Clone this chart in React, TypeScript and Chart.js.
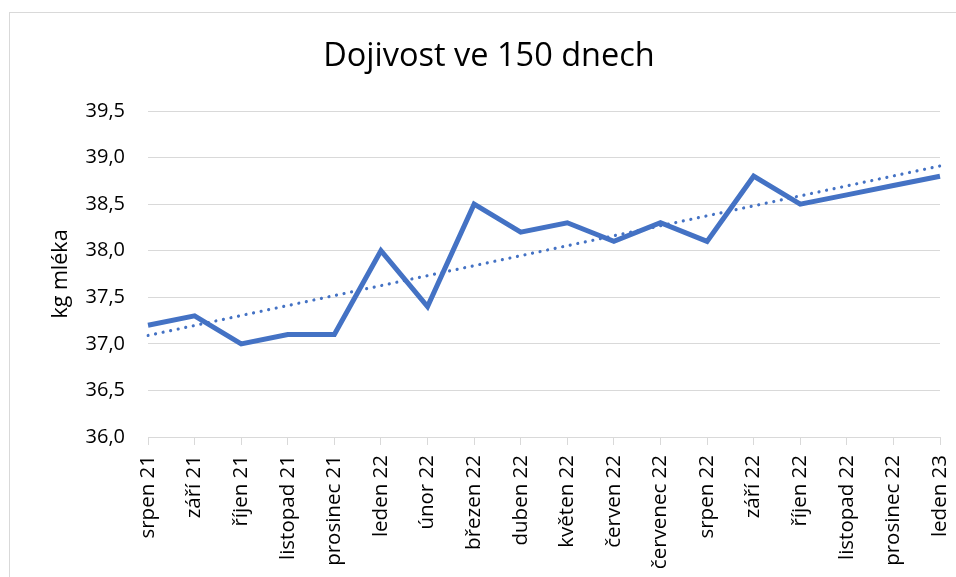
import React, { useEffect, useRef } from "react";
import { Chart, registerables } from "chart.js";

Chart.register(...registerables);

const categories = [
  "srpen 21", "září 21", "říjen 21", "listopad 21", "prosinec 21",
  "leden 22", "únor 22", "březen 22", "duben 22", "květen 22",
  "červen 22", "červenec 22", "srpen 22", "září 22", "říjen 22",
  "listopad 22", "prosinec 22", "leden 23",
];

const milkYield = [
  37.2, 37.3, 37.0, 37.1, 37.1, 38.0, 37.4, 38.5, 38.2, 38.3,
  38.1, 38.3, 38.1, 38.8, 38.5, 38.6, 38.7, 38.8,
];

// Linear trend line (start and end values)
const trendValues = [
  37.09, null, null, null, null, null, null, null, null, null,
  null, null, null, null, null, null, null, 38.91,
];

const yTicks = [36.0, 36.5, 37.0, 37.5, 38.0, 38.5, 39.0, 39.5];

const titleText = "Dojivost ve 150 dnech";
const yTitleText = "kg mléka";

export default function App() {
  const ref = useRef<HTMLCanvasElement | null>(null);

  useEffect(() => {
    if (!ref.current) return;
    const FONT = "'Open Sans', sans-serif";
    const chart = new Chart(ref.current, {
      type: "line",
      data: {
        labels: categories,
        datasets: [
          {
            label: "Lineární trend",
            data: trendValues,
            borderColor: "#4472C4",
            borderWidth: 3.2,
            borderDash: [0.01, 7.7],
            borderCapStyle: "round",
            pointRadius: 0,
            spanGaps: true,
            fill: false,
            order: 0,
          },
          {
            label: "Dojivost",
            data: milkYield,
            borderColor: "#4472C4",
            borderWidth: 5,
            borderJoinStyle: "miter",
            borderCapStyle: "butt",
            pointRadius: 0,
            fill: false,
            tension: 0,
            order: 1,
          },
        ],
      },
      options: {
        responsive: false,
        animation: false,
        layout: { padding: { left: 28, right: 16, top: 0, bottom: 0 } },
        plugins: {
          legend: { display: false },
          tooltip: { enabled: false },
          title: {
            display: true,
            text: titleText,
            color: "#000",
            font: { family: FONT, size: 32.5, weight: "normal" },
            padding: { top: 24, bottom: 35 },
          },
        },
        scales: {
          x: {
            type: "category",
            offset: false,
            grid: {
              drawOnChartArea: false,
              drawTicks: true,
              tickLength: 8,
              tickColor: "#d9d9d9",
              color: "#d9d9d9",
            },
            border: { display: true, color: "#d9d9d9", width: 1 },
            ticks: {
              autoSkip: false,
              maxRotation: 90,
              minRotation: 90,
              padding: 10,
              color: "#000",
              font: { family: FONT, size: 20.5 },
            },
            afterFit: (scale: any) => {
              scale.height = 140;
              scale.paddingLeft = 0;
              scale.paddingRight = 0;
            },
          },
          y: {
            min: 36,
            max: 39.5,
            afterBuildTicks: (scale: any) => {
              scale.ticks = yTicks.map((v) => ({ value: v }));
            },
            grid: { color: "#d9d9d9", lineWidth: 1, drawTicks: false },
            border: { display: false },
            ticks: {
              padding: 23,
              color: "#000",
              font: { family: FONT, size: 20 },
              callback: (v: any) => Number(v).toFixed(1).replace(".", ","),
            },
            title: {
              display: true,
              text: yTitleText,
              color: "#000",
              font: { family: FONT, size: 21.5 },
              padding: { top: 10, bottom: 0 },
            },
            afterFit: (scale: any) => {
              scale.width = 110;
            },
          },
        },
      },
    });
    return () => chart.destroy();
  }, []);

  return (
    <div
      style={{
        position: "absolute",
        left: 9,
        top: 12,
        width: 947,
        height: 565,
        boxSizing: "border-box",
        borderTop: "1px solid #d9d9d9",
        borderLeft: "1px solid #d9d9d9",
        background: "#fff",
      }}
    >
      <canvas ref={ref} width={946} height={564} style={{ display: "block", width: 946, height: 564 }} />
    </div>
  );
}
